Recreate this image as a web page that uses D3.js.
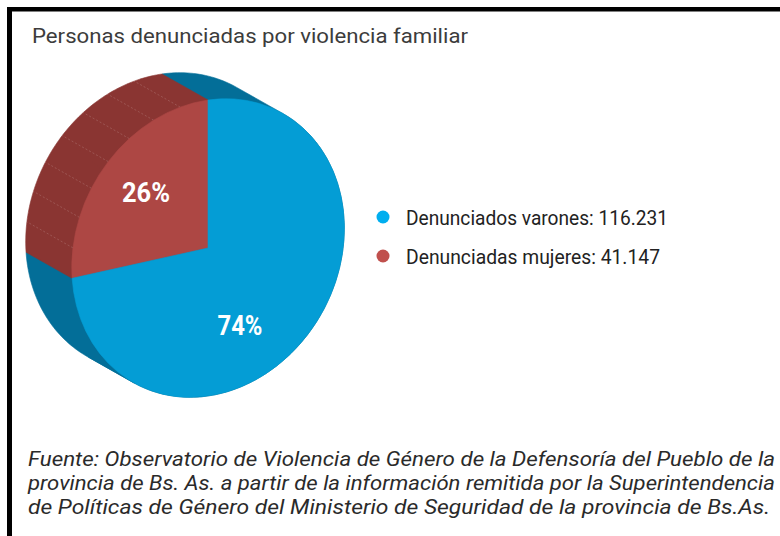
<!DOCTYPE html>
<html><head><meta charset="utf-8">
<script src="https://cdn.jsdelivr.net/npm/d3@7"></script>
<style>
html,body{margin:0;padding:0;background:#fff;}
svg{display:block;}
</style></head>
<body>
<script>
const title = "Personas denunciadas por violencia familiar";
const categories = ["Denunciadas mujeres", "Denunciados varones"];
const values = [41147, 116231];
const percentLabels = ["26%", "74%"];
const legendLabels = ["Denunciados varones: 116.231", "Denunciadas mujeres: 41.147"];
const legendOrder = [1, 0];
const topColors = ["#AD4744", "#049DD5"];
const sideColors = ["#8A3532", "#036E98"];
const legendColors = ["#C0504D", "#00AEEF"];
const footer = [
  "Fuente: Observatorio de Violencia de Género de la Defensoría del Pueblo de la",
  "provincia de Bs. As. a partir de la información remitida por la Superintendencia",
  "de Políticas de Género del Ministerio de Seguridad de la provincia de Bs.As."
];

const W = 780, H = 536;
const svg = d3.select("body").append("svg").attr("width", W).attr("height", H);

// frame lines
svg.append("rect").attr("x", 7).attr("y", 7).attr("width", W - 7).attr("height", 4.5).attr("fill", "#000");
svg.append("rect").attr("x", 7).attr("y", 7).attr("width", 5).attr("height", H - 7).attr("fill", "#000");

svg.append("text").attr("x", 32).attr("y", 43)
  .attr("font-family", "Roboto, 'Noto Sans', sans-serif").attr("font-size", 21)
  .attr("fill", "#3c3c3c").attr("textLength", 436).attr("lengthAdjust", "spacingAndGlyphs")
  .text(title);

// projection of the pie (affine tilt) and extrusion
const cx = 208, cy = 248;
const M = [[136.3, 0], [-19.7, 148]];
const depth = [-46, -26];
const proj = (a, r = 1) => {
  const ux = r * Math.sin(a), uy = -r * Math.cos(a);
  return [cx + M[0][0] * ux + M[0][1] * uy, cy + M[1][0] * ux + M[1][1] * uy];
};

const total = d3.sum(values);
const pie = d3.pie().sort(null)
  .startAngle(-2 * Math.PI * values[0] / total)
  .endAngle(2 * Math.PI - 2 * Math.PI * values[0] / total);
const arcs = pie(values);

// side (extrusion) : swept hulls of convex sub-sectors
const sideG = svg.append("g");
const drawOrder = [1, 0];
drawOrder.forEach(i => {
  const a = arcs[i];
  const span = a.endAngle - a.startAngle;
  const pieces = Math.ceil(span / (Math.PI / 3));
  for (let p = 0; p < pieces; p++) {
    const a0 = a.startAngle + span * p / pieces;
    const a1 = a.startAngle + span * (p + 1) / pieces;
    const pts = [[cx, cy]];
    const n = 40;
    for (let k = 0; k <= n; k++) pts.push(proj(a0 + (a1 - a0) * k / n));
    const all = pts.concat(pts.map(q => [q[0] + depth[0], q[1] + depth[1]]));
    const hull = d3.polygonHull(all);
    sideG.append("path").attr("d", "M" + hull.join("L") + "Z")
      .attr("fill", sideColors[i]).attr("stroke", sideColors[i]).attr("stroke-width", 0.6);
  }
});

// decorative seams on the red side
const redArc = arcs[0];
const seamG = svg.append("g");
for (let k = 1; k <= 7; k++) {
  const a = redArc.startAngle + (redArc.endAngle - redArc.startAngle) * k / 8;
  const p = proj(a);
  seamG.append("line").attr("x1", p[0]).attr("y1", p[1])
    .attr("x2", p[0] + depth[0]).attr("y2", p[1] + depth[1])
    .attr("stroke", "rgba(255,255,255,0.2)").attr("stroke-width", 0.8)
    .attr("stroke-dasharray", "2,2");
}

// top face drawn with d3.arc in unit space, then mapped through the affine tilt
const arcGen = d3.arc().innerRadius(0).outerRadius(1);
const topG = svg.append("g")
  .attr("transform", `matrix(${M[0][0]},${M[1][0]},${M[0][1]},${M[1][1]},${cx},${cy})`);
topG.selectAll("path").data(arcs).join("path")
  .attr("d", arcGen)
  .attr("fill", (d, i) => topColors[i])
  .attr("stroke", (d, i) => topColors[i]).attr("stroke-width", 0.6)
  .attr("vector-effect", "non-scaling-stroke");

// percentage labels
const labelPos = [[146, 202], [240, 335]];
const labelLen = [48, 45];
svg.selectAll("text.pct").data(percentLabels).join("text").attr("class", "pct")
  .attr("x", (d, i) => labelPos[i][0]).attr("y", (d, i) => labelPos[i][1])
  .attr("text-anchor", "middle")
  .attr("font-family", "Roboto, 'Noto Sans', sans-serif").attr("font-weight", "bold")
  .attr("font-size", 27).attr("fill", "#fff")
  .attr("textLength", (d, i) => labelLen[i]).attr("lengthAdjust", "spacingAndGlyphs")
  .text(d => d);

// legend
const legY = [217, 256];
const legLen = [262, 254];
const leg = svg.append("g");
legendOrder.forEach((ci, r) => {
  leg.append("circle").attr("cx", 383).attr("cy", legY[r]).attr("r", 6.5).attr("fill", legendColors[ci]);
  leg.append("text").attr("x", 406).attr("y", legY[r] + 8)
    .attr("font-family", "Roboto, 'Noto Sans', sans-serif").attr("font-size", 21)
    .attr("fill", "#222").attr("textLength", legLen[r]).attr("lengthAdjust", "spacingAndGlyphs")
    .text(legendLabels[r]);
});

// footer
const footY = [466, 490, 514];
const footLen = [747, 747, 742];
svg.selectAll("text.foot").data(footer).join("text").attr("class", "foot")
  .attr("x", 28).attr("y", (d, i) => footY[i])
  .attr("font-family", "Roboto, 'Noto Sans', sans-serif").attr("font-style", "italic")
  .attr("font-size", 19.5).attr("fill", "#2a2a2a")
  .attr("textLength", (d, i) => footLen[i]).attr("lengthAdjust", "spacingAndGlyphs")
  .text(d => d);
</script>
</body></html>
